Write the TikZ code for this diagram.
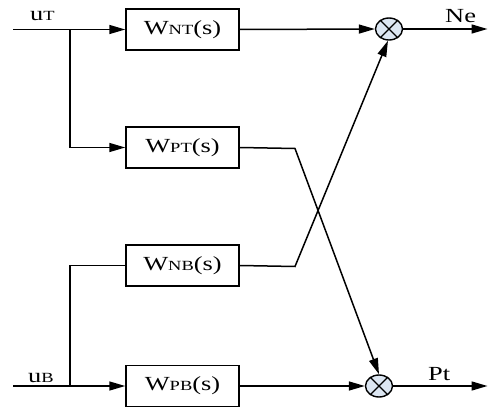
\documentclass[tikz,border=0pt]{standalone}
\usepackage{fontspec}
\setmainfont[FakeStretch=1.32]{Liberation Serif}
\usetikzlibrary{arrows.meta,shapes.geometric}
\newcommand{\sml}[1]{{\fontsize{14}{15}\selectfont #1}}
\tikzset{
  blk/.style={draw,line width=1.5pt,fill=white,minimum width=113pt,minimum height=41pt,inner sep=0pt,font=\fontsize{20}{22}\selectfont},
  mul/.style={draw,line width=1.4pt,ellipse,fill={rgb,255:red,220;green,230;blue,242},minimum width=27pt,minimum height=22pt,inner sep=0pt},
  wire/.style={line width=1.5pt},
  arr/.style={wire,-{Triangle[length=16pt,width=9pt]}},
  lbl/.style={font=\fontsize{20}{22}\selectfont,inner sep=0pt,anchor=base west}
}
\begin{document}
\begin{tikzpicture}[x=1pt,y=-1pt]
\useasboundingbox (0,0) rectangle (488,409);
\node[blk] (nt) at (182.5,29.5) {\raisebox{-2pt}{W\sml{NT}(s)}};
\node[blk] (pt) at (182.5,147.5) {\raisebox{-2pt}{W\sml{PT}(s)}};
\node[blk] (nb) at (182.5,265.5) {\raisebox{-2pt}{W\sml{NB}(s)}};
\node[blk] (pb) at (182.5,386) {\raisebox{-2pt}{W\sml{PB}(s)}};
\node[mul] (mt) at (389,29) {};
\node[mul] (mb) at (379,386) {};
\foreach \m in {mt,mb}{
  \draw[line width=1.2pt] (\m.45) -- (\m.225);
  \draw[line width=1.2pt] (\m.135) -- (\m.315);
}
\coordinate (inT) at (13,29.5);
\coordinate (bT) at (70,29.5);
\coordinate (inB) at (13,386);
\coordinate (bB) at (70,386);
\coordinate (kP) at (295,148.5);
\coordinate (kN) at (295,266.5);
\coordinate (oN) at (487.5,29);
\coordinate (oP) at (487.5,386);
\draw[arr] (inT) -- (nt.west);
\draw[arr] (bT) |- (pt.west);
\draw[arr] (inB) -- (pb.west);
\draw[wire] (bB) |- (nb.west);
\draw[arr] (nt.east) -- (mt.west);
\draw[arr] (pb.east) -- (mb.west);
\draw[arr] (pt.east) -- (kP) -- (mb.north);
\draw[arr] (nb.east) -- (kN) -- (mt.265);
\draw[arr] (mt.east) -- (oN);
\draw[arr] (mb.east) -- (oP);
\node[lbl] (uT) at (30,21) {u\sml{T}};
\node[lbl] (uB) at (28,382) {u\sml{B}};
\node[lbl] (Ne) at (445,23) {Ne};
\node[lbl] (Pt) at (428,381) {Pt};
\end{tikzpicture}
\end{document}
